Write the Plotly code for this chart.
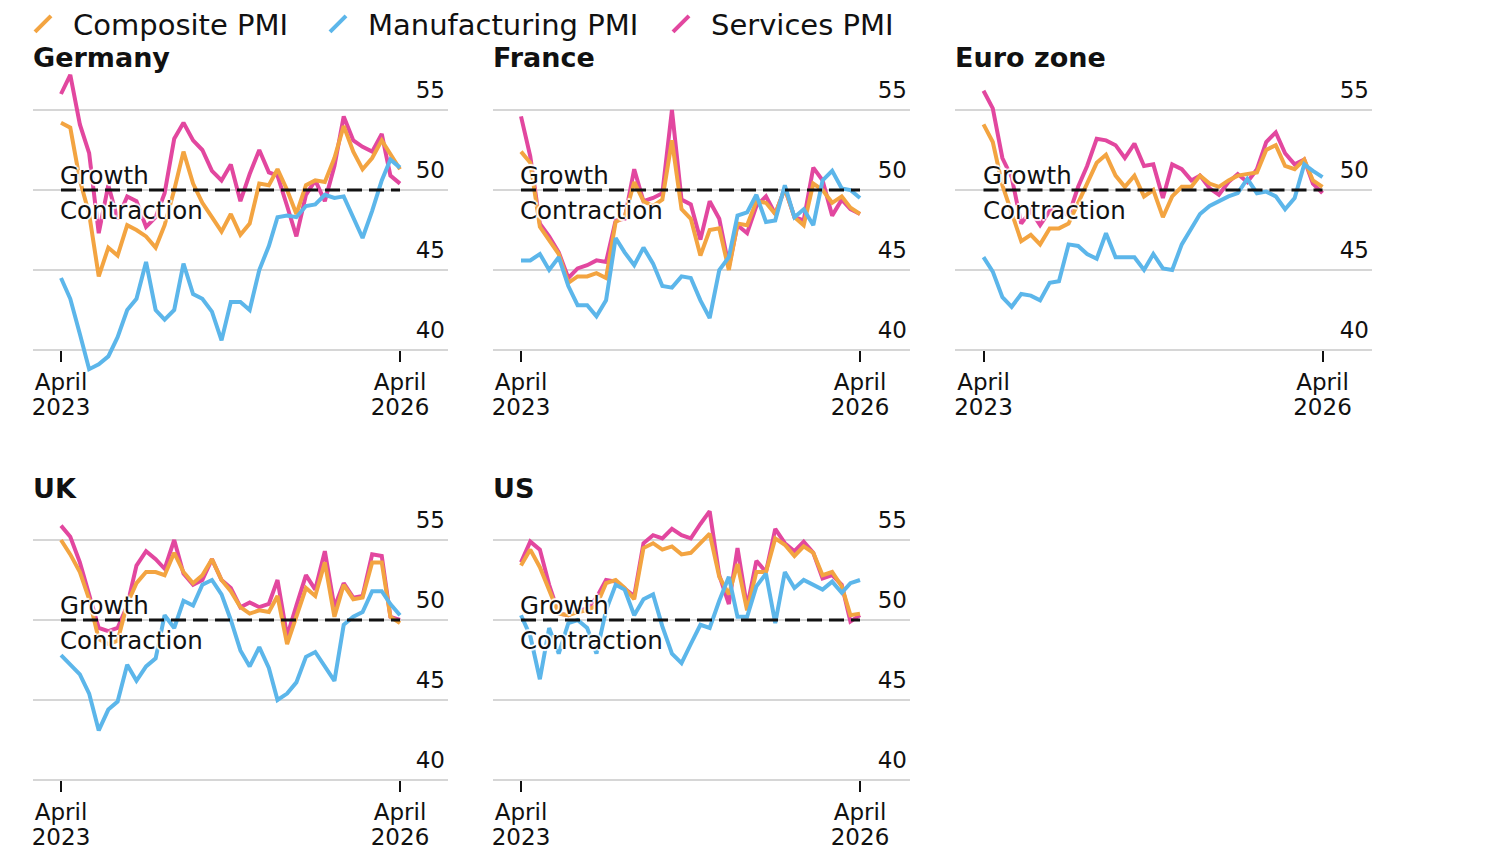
import pandas as pd
import plotly.graph_objects as go

# ---------------- data ----------------
months = pd.date_range("2023-04-01", periods=37, freq="MS").strftime("%Y-%m-%d").tolist()
tick_dates = ["2023-04-01", "2026-04-01"]
tick_month_text = ["April", "April"]
tick_year_text = ["2023", "2026"]
y_ticks = [40, 45, 50, 55]

series_names = ["Composite PMI", "Manufacturing PMI", "Services PMI"]
panel_titles = ["Germany", "France", "Euro zone", "UK", "US"]

germany_composite = [54.2, 53.9, 50.6, 48.5, 44.6, 46.4, 45.9, 47.8, 47.5, 47.1, 46.4, 47.8, 50.0, 52.4, 50.4, 49.2, 48.3, 47.4, 48.5, 47.2, 47.9, 50.4, 50.3, 51.3, 50.0, 48.5, 50.3, 50.6, 50.5, 52.0, 54.0, 52.4, 51.3, 52.0, 53.1, 52.2, 51.3]
germany_manufacturing = [44.5, 43.2, 41.0, 38.8, 39.1, 39.6, 40.8, 42.5, 43.2, 45.5, 42.5, 41.9, 42.5, 45.4, 43.5, 43.2, 42.4, 40.6, 43.0, 43.0, 42.5, 45.0, 46.5, 48.3, 48.4, 48.3, 49.0, 49.1, 49.7, 49.5, 49.6, 48.2, 47.0, 48.7, 50.6, 51.9, 51.4]
germany_services = [56.0, 57.2, 54.1, 52.3, 47.3, 50.3, 48.2, 49.6, 49.3, 47.7, 48.3, 49.8, 53.2, 54.2, 53.1, 52.5, 51.2, 50.6, 51.6, 49.3, 51.0, 52.5, 51.1, 50.9, 49.0, 47.1, 49.7, 50.6, 49.3, 51.5, 54.6, 53.1, 52.7, 52.4, 53.5, 50.9, 50.4]

france_composite = [52.4, 51.7, 47.7, 46.9, 46.0, 44.2, 44.6, 44.6, 44.8, 44.5, 48.0, 48.3, 50.5, 49.3, 49.0, 49.4, 53.1, 48.8, 48.2, 45.9, 47.5, 47.6, 45.0, 47.9, 47.8, 49.3, 49.2, 48.5, 50.1, 48.3, 47.8, 50.4, 50.0, 49.2, 49.6, 48.9, 48.5]
france_manufacturing = [45.6, 45.6, 46.0, 45.0, 45.8, 44.0, 42.8, 42.8, 42.1, 43.1, 47.0, 46.1, 45.3, 46.4, 45.4, 44.0, 43.9, 44.6, 44.5, 43.1, 42.0, 45.0, 45.8, 48.4, 48.6, 49.7, 48.0, 48.1, 50.3, 48.3, 48.8, 47.8, 50.6, 51.2, 50.1, 50.0, 49.5]
france_services = [54.6, 52.1, 47.9, 47.1, 46.1, 44.5, 45.1, 45.3, 45.6, 45.5, 48.1, 48.2, 51.3, 49.3, 49.5, 49.8, 55.0, 49.4, 49.1, 46.9, 49.3, 48.2, 45.2, 47.8, 47.3, 49.0, 49.6, 48.5, 50.1, 48.3, 48.1, 51.4, 50.6, 48.4, 49.4, 48.8, 48.5]

eurozone_composite = [54.1, 53.0, 50.3, 48.6, 46.8, 47.2, 46.6, 47.6, 47.6, 47.9, 49.2, 50.3, 51.7, 52.2, 50.9, 50.2, 50.9, 49.6, 50.0, 48.3, 49.6, 50.2, 50.2, 50.9, 50.4, 50.2, 50.6, 50.9, 51.0, 51.1, 52.5, 52.8, 51.5, 51.3, 51.9, 50.6, 50.2]
eurozone_manufacturing = [45.8, 44.9, 43.3, 42.7, 43.5, 43.4, 43.1, 44.2, 44.3, 46.6, 46.5, 46.0, 45.7, 47.3, 45.8, 45.8, 45.8, 45.0, 46.0, 45.1, 45.0, 46.6, 47.6, 48.5, 49.0, 49.3, 49.6, 49.8, 50.7, 49.8, 49.9, 49.6, 48.8, 49.5, 51.6, 51.2, 50.8]
eurozone_services = [56.2, 55.1, 52.0, 50.8, 47.9, 48.7, 47.8, 48.7, 48.8, 48.4, 50.2, 51.5, 53.2, 53.1, 52.8, 52.0, 52.9, 51.5, 51.6, 49.5, 51.6, 51.3, 50.6, 50.9, 50.1, 49.7, 50.5, 51.0, 50.5, 51.3, 53.0, 53.6, 52.3, 51.6, 51.9, 50.4, 49.8]

uk_composite = [55.0, 54.1, 53.0, 51.3, 48.8, 48.5, 48.7, 51.0, 52.3, 53.0, 53.0, 52.8, 54.2, 53.0, 52.3, 52.8, 53.8, 52.5, 51.8, 50.8, 50.4, 50.6, 50.5, 51.5, 48.5, 50.2, 52.0, 51.5, 53.6, 50.2, 52.2, 51.3, 51.4, 53.6, 53.6, 50.2, 49.8]
uk_manufacturing = [47.8, 47.2, 46.6, 45.4, 43.1, 44.4, 44.9, 47.2, 46.2, 47.1, 47.6, 50.3, 49.5, 51.2, 50.9, 52.2, 52.5, 51.6, 50.0, 48.1, 47.1, 48.3, 47.0, 45.0, 45.4, 46.1, 47.7, 48.0, 47.1, 46.2, 49.7, 50.2, 50.5, 51.8, 51.8, 51.0, 50.3]
uk_services = [55.9, 55.2, 53.6, 51.5, 49.5, 49.3, 49.5, 50.9, 53.4, 54.3, 53.8, 53.2, 55.0, 52.9, 52.2, 52.5, 53.8, 52.5, 52.0, 50.8, 51.1, 50.8, 51.0, 52.5, 49.0, 50.9, 52.8, 51.9, 54.3, 50.8, 52.3, 51.4, 51.5, 54.1, 54.0, 50.2, 50.0]

us_composite = [53.4, 54.4, 53.3, 51.9, 50.4, 50.3, 50.5, 50.6, 50.9, 52.3, 52.5, 52.0, 51.3, 54.5, 54.8, 54.4, 54.6, 54.1, 54.2, 54.8, 55.4, 52.7, 51.6, 53.5, 50.6, 53.0, 53.0, 55.1, 54.7, 54.0, 54.6, 54.2, 52.8, 53.0, 52.1, 50.3, 50.4]
us_manufacturing = [50.3, 49.0, 46.3, 49.5, 47.9, 49.8, 50.0, 49.5, 47.9, 50.6, 52.2, 51.9, 50.3, 51.3, 51.6, 49.6, 47.9, 47.3, 48.5, 49.7, 49.5, 51.2, 52.7, 50.2, 50.2, 52.1, 52.9, 49.8, 53.0, 52.0, 52.5, 52.2, 51.9, 52.4, 51.7, 52.3, 52.5]
us_services = [53.6, 54.9, 54.4, 52.2, 50.4, 50.3, 50.6, 50.7, 51.4, 52.5, 52.4, 52.0, 51.5, 54.8, 55.3, 55.1, 55.7, 55.3, 55.1, 56.0, 56.8, 52.8, 51.0, 54.5, 50.8, 53.7, 53.0, 55.7, 54.8, 54.3, 54.9, 54.2, 52.6, 52.8, 52.2, 49.9, 50.3]

panel_data = [
    (germany_composite, germany_manufacturing, germany_services),
    (france_composite, france_manufacturing, france_services),
    (eurozone_composite, eurozone_manufacturing, eurozone_services),
    (uk_composite, uk_manufacturing, uk_services),
    (us_composite, us_manufacturing, us_services),
]

# ---------------- style / layout ----------------
OFF = 8                      # page margin of the html body
W, H = 1500 - OFF, 850 - OFF
COL_COMP = "#F3A441"
COL_MANU = "#5CB6EA"
COL_SERV = "#E2479F"
FONT = "DejaVu Sans"
TXT = "#111111"
LW = 4.0

def fx(px):
    return (px - OFF) / W

def fy(py):
    return 1 - (py - OFF) / H

# reference pixel geometry per panel: (left, right, tick_first, tick_last, top, bottom, axis_y)
panels_px = [
    (33, 448, 61, 400, 62, 375, 350),
    (493, 910, 521, 860, 62, 375, 350),
    (955, 1372, 983.5, 1322.5, 62, 375, 350),
    (33, 448, 61, 400, 492, 805, 780),
    (493, 910, 521, 860, 492, 805, 780),
]
Y_RANGE = [38.4375, 58.0]

t0 = pd.Timestamp(tick_dates[0])
t1 = pd.Timestamp(tick_dates[1])
span_days = (t1 - t0).days

fig = go.Figure()
legend_style = dict(orientation="h", xanchor="left", yanchor="middle",
                    font=dict(family=FONT, size=29, color=TXT), bgcolor="rgba(0,0,0,0)",
                    itemsizing="trace", itemwidth=50, borderwidth=0)
legend_icon_px = [45, 340, 683]
legend_keys = ["legend", "legend2", "legend3"]

layout = dict(
    width=W, height=H, margin=dict(l=0, r=0, t=0, b=0, autoexpand=False),
    paper_bgcolor="white", plot_bgcolor="white",
    showlegend=True,
)
for key, icx in zip(legend_keys, legend_icon_px):
    layout[key] = dict(legend_style, x=fx(icx - 32), y=fy(24))

shapes = []
annotations = []
halo = "white 2px 0px 1px, white -2px 0px 1px, white 0px 2px 1px, white 0px -2px 1px"
n_panels = len(panels_px)

for k, (lp, rp, tp0, tp1, top, bot, axp) in enumerate(panels_px):
    n = k + 1
    xa = "x" if n == 1 else f"x{n}"
    ya = "y" if n == 1 else f"y{n}"
    xkey = "xaxis" if n == 1 else f"xaxis{n}"
    ykey = "yaxis" if n == 1 else f"yaxis{n}"
    xa_year = f"x{n + n_panels}"
    xkey_year = f"xaxis{n + n_panels}"
    ppd = (tp1 - tp0) / span_days
    xr0 = t0 - pd.Timedelta(days=(tp0 - lp) / ppd)
    xr1 = t1 + pd.Timedelta(days=(rp - tp1) / ppd)
    layout[xkey] = dict(
        type="date", domain=[fx(lp), fx(rp)], range=[xr0, xr1],
        anchor="free", position=fy(axp),
        showgrid=False, zeroline=False, showline=False,
        tickmode="array", tickvals=tick_dates, ticktext=tick_month_text,
        ticks="outside", ticklen=11, tickwidth=2, tickcolor="#111",
        tickfont=dict(family=FONT, size=23, color=TXT),
    )
    # second row of tick labels (the year), sharing the same date scale
    layout[xkey_year] = dict(
        type="date", domain=[fx(lp), fx(rp)], range=[xr0, xr1], matches=xa,
        overlaying=xa, anchor="free", position=fy(axp),
        showgrid=False, zeroline=False, showline=False,
        tickmode="array", tickvals=tick_dates, ticktext=tick_year_text,
        ticks="", ticklen=0, ticklabelstandoff=41,
        tickfont=dict(family=FONT, size=23, color=TXT),
    )
    layout[ykey] = dict(
        domain=[fy(bot), fy(top)], range=Y_RANGE, anchor=xa,
        side="right", tickmode="array", tickvals=y_ticks,
        ticklabelposition="inside top", ticks="", ticklen=0,
        ticklabelshift=-4,
        showgrid=True, gridcolor="#d6d6d6", gridwidth=2,
        zeroline=False, showline=False,
        tickfont=dict(family=FONT, size=23, color=TXT),
    )
    comp, manu, serv = panel_data[k]
    for vals, col, name in ((serv, COL_SERV, series_names[2]),
                            (comp, COL_COMP, series_names[0]),
                            (manu, COL_MANU, series_names[1])):
        fig.add_trace(go.Scatter(x=months, y=vals, mode="lines", name=name,
                                 line=dict(color=col, width=LW), showlegend=False,
                                 xaxis=xa, yaxis=ya, hoverinfo="skip"))
    fig.add_trace(go.Scatter(x=[None], y=[None], mode="lines", showlegend=False,
                             xaxis=xa_year, yaxis=ya, hoverinfo="skip"))
    shapes.append(dict(type="line", xref=xa, yref=ya, x0=months[0], x1=months[-1],
                       y0=50, y1=50, line=dict(color="#111", width=3.2, dash="15px,7px"),
                       layer="above"))
    annotations.append(dict(xref=xa, yref=ya, x=months[0], y=50, xanchor="left", yanchor="middle",
                            yshift=15, xshift=-3, text="Growth", showarrow=False,
                            font=dict(family=FONT, size=24.5, color=TXT, shadow=halo)))
    annotations.append(dict(xref=xa, yref=ya, x=months[0], y=50, xanchor="left", yanchor="middle",
                            yshift=-20, xshift=-3, text="Contraction", showarrow=False,
                            font=dict(family=FONT, size=24.5, color=TXT, shadow=halo)))
    annotations.append(dict(xref="paper", yref="paper", x=fx(lp - 2), y=fy(top - 4),
                            xanchor="left", yanchor="middle", text=f"<b>{panel_titles[k]}</b>",
                            showarrow=False, font=dict(family=FONT, size=27, color=TXT)))

# legend entries (one legend per entry so each can sit where the reference has it)
for name, col, key in zip(series_names, (COL_COMP, COL_MANU, COL_SERV), legend_keys):
    fig.add_trace(go.Scatter(x=[None], y=[None], mode="markers", name=name, legend=key,
                             marker=dict(symbol="line-ne", size=18, color=col,
                                         line=dict(width=4, color=col)),
                             xaxis="x", yaxis="y"))

layout["shapes"] = shapes
layout["annotations"] = annotations
fig.update_layout(**layout)
fig.write_html("out.html")
